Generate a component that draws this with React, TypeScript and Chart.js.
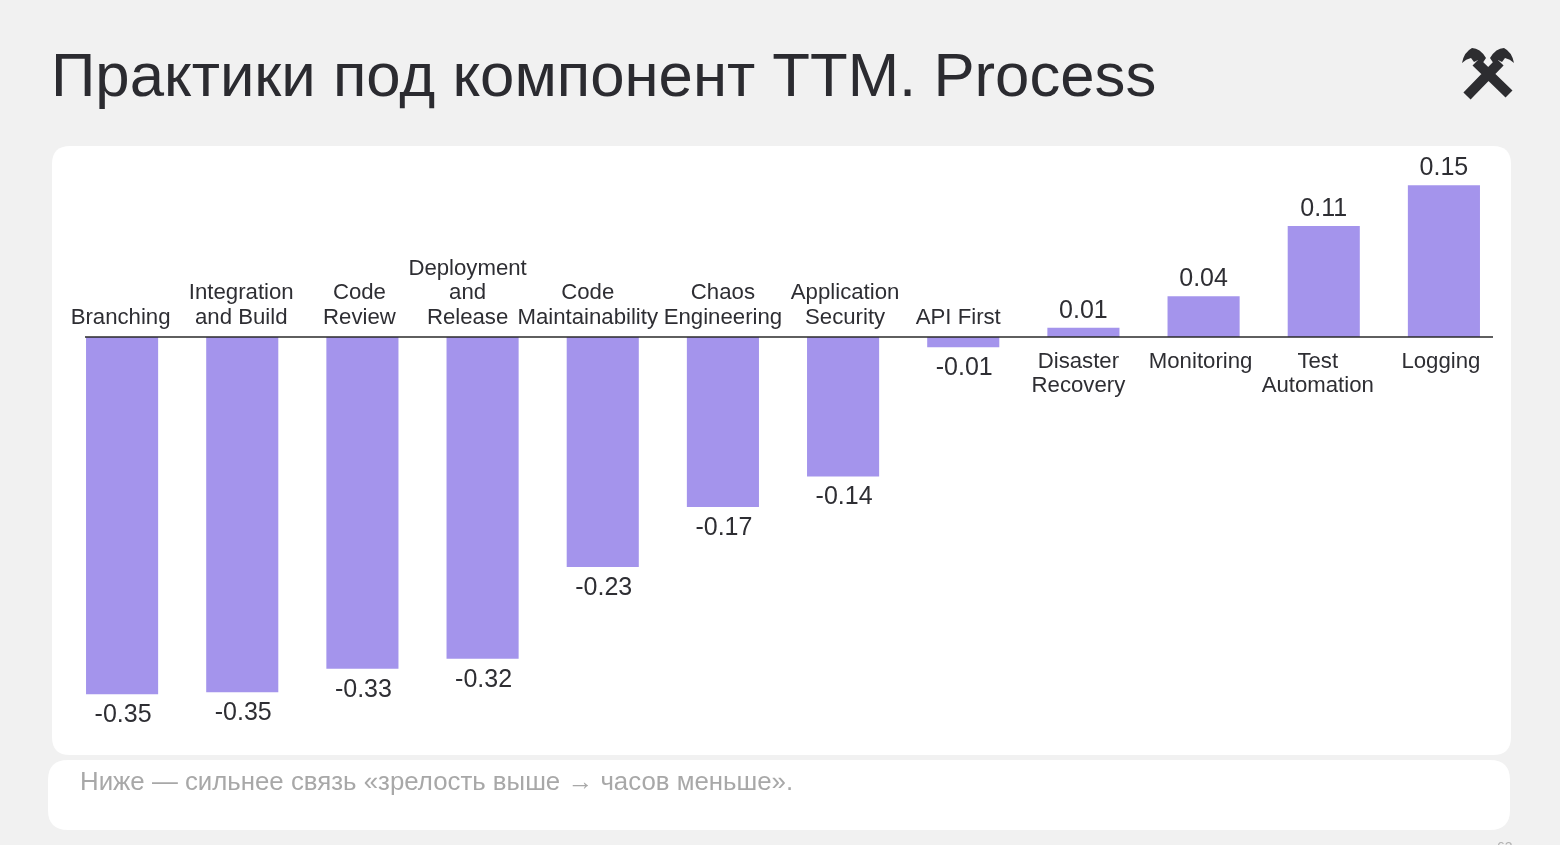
import { useEffect, useRef } from "react";
import { Chart, registerables } from "chart.js";

Chart.register(...registerables);

const TITLE = "Практики под компонент TTM. Process";
const FOOTNOTE = "Ниже — сильнее связь «зрелость выше → часов меньше».";

const categories: string[][] = [
  ["Branching"],
  ["Integration", "and Build"],
  ["Code", "Review"],
  ["Deployment", "and", "Release"],
  ["Code", "Maintainability"],
  ["Chaos", "Engineering"],
  ["Application", "Security"],
  ["API First"],
  ["Disaster", "Recovery"],
  ["Monitoring"],
  ["Test", "Automation"],
  ["Logging"],
];

const values: number[] = [
  -0.351, -0.349, -0.326, -0.316, -0.226, -0.167, -0.137, -0.01, 0.009, 0.04, 0.109, 0.149,
];

// horizontal nudges of category captions (to avoid overlaps, as in the source)
const captionShift: number[] = [-1.5, -1, -3, -15, -15, 0, 2, -5, -5, -3, -6, -3];

const BAR = "#a494ec";
const TEXT = "#2e2e33";
const FONT = "'Liberation Sans', Arial, sans-serif";

function roundRect(ctx: CanvasRenderingContext2D, x: number, y: number, w: number, h: number, r: number) {
  ctx.beginPath();
  ctx.moveTo(x + r, y);
  ctx.lineTo(x + w - r, y);
  ctx.quadraticCurveTo(x + w, y, x + w, y + r);
  ctx.lineTo(x + w, y + h - r);
  ctx.quadraticCurveTo(x + w, y + h, x + w - r, y + h);
  ctx.lineTo(x + r, y + h);
  ctx.quadraticCurveTo(x, y + h, x, y + h - r);
  ctx.lineTo(x, y + r);
  ctx.quadraticCurveTo(x, y, x + r, y);
  ctx.closePath();
}

const pagePlugin = {
  id: "page",
  beforeDraw(chart: any) {
    const ctx: CanvasRenderingContext2D = chart.ctx;
    ctx.save();
    ctx.fillStyle = "#f1f1f1";
    ctx.fillRect(0, 0, chart.width, chart.height);
    ctx.fillStyle = "#ffffff";
    roundRect(ctx, 52, 146, 1459, 609, 18);
    ctx.fill();
    roundRect(ctx, 48, 760, 1462, 70, 20);
    ctx.fill();

    // title
    ctx.fillStyle = "#2b2b30";
    ctx.font = `61.7px ${FONT}`;
    ctx.textAlign = "left";
    ctx.textBaseline = "alphabetic";
    ctx.fillText(TITLE, 51, 96);

    // footnote
    ctx.fillStyle = "#a8a8a8";
    ctx.font = `25px ${FONT}`;
    ctx.save();
    ctx.translate(80, 790);
    ctx.scale(1.033, 1);
    ctx.fillText(FOOTNOTE, 0, 0);
    ctx.restore();

    // page number (cut off at the bottom)
    ctx.fillStyle = "#b0b0b0";
    ctx.font = `14px ${FONT}`;
    ctx.fillText("63", 1497, 852);

    // logo
    ctx.strokeStyle = "#2d2d30";
    ctx.fillStyle = "#2d2d30";
    ctx.lineWidth = 10;
    ctx.lineCap = "butt";
    ctx.beginPath();
    ctx.moveTo(1467, 96);
    ctx.lineTo(1500, 62);
    ctx.moveTo(1509, 94);
    ctx.lineTo(1476, 62);
    ctx.stroke();
    // left head
    ctx.beginPath();
    ctx.moveTo(1462, 63);
    ctx.quadraticCurveTo(1464, 52, 1472, 48);
    ctx.quadraticCurveTo(1480, 48, 1486, 58);
    ctx.lineTo(1482, 64);
    ctx.lineTo(1478, 60);
    ctx.lineTo(1474, 62);
    ctx.lineTo(1471, 58);
    ctx.quadraticCurveTo(1466, 59, 1462, 63);
    ctx.closePath();
    ctx.fill();
    // right head
    ctx.beginPath();
    ctx.moveTo(1514, 63);
    ctx.quadraticCurveTo(1512, 52, 1504, 48);
    ctx.quadraticCurveTo(1496, 48, 1490, 58);
    ctx.lineTo(1494, 64);
    ctx.lineTo(1498, 60);
    ctx.lineTo(1502, 62);
    ctx.lineTo(1505, 58);
    ctx.quadraticCurveTo(1510, 59, 1514, 63);
    ctx.closePath();
    ctx.fill();
    ctx.restore();
  },
  afterDatasetsDraw(chart: any) {
    const ctx: CanvasRenderingContext2D = chart.ctx;
    const area = chart.chartArea;
    const y = chart.scales.y;
    const x = chart.scales.x;
    const zero = y.getPixelForValue(0);
    ctx.save();
    // zero line
    ctx.strokeStyle = "#2a2a2a";
    ctx.lineWidth = 1.5;
    ctx.beginPath();
    ctx.moveTo(area.left + 23, zero);
    ctx.lineTo(area.right - 11, zero);
    ctx.stroke();

    ctx.fillStyle = TEXT;
    ctx.textAlign = "center";
    ctx.textBaseline = "middle";
    const lineH = 24.5;
    values.forEach((v, i) => {
      const cx = x.getPixelForValue(i);
      const lines = categories[i];
      ctx.font = `22.2px ${FONT}`;
      const lx = cx + captionShift[i];
      if (v < 0) {
        lines.forEach((ln, k) => {
          const yy = zero - 19.5 - (lines.length - 1 - k) * lineH;
          ctx.fillText(ln, lx, yy);
        });
      } else {
        lines.forEach((ln, k) => {
          ctx.fillText(ln, lx, zero + 24.5 + k * lineH);
        });
      }
      ctx.font = `25px ${FONT}`;
      const end = y.getPixelForValue(v);
      const txt = v.toFixed(2);
      if (v < 0) ctx.fillText(txt, cx + 1, end + 21);
      else ctx.fillText(txt, cx, end - 17);
    });
    ctx.restore();
  },
};

export default function App() {
  const ref = useRef<HTMLCanvasElement | null>(null);
  useEffect(() => {
    if (!ref.current) return;
    const chart = new Chart(ref.current, {
      type: "bar",
      data: {
        labels: categories,
        datasets: [
          {
            data: values,
            backgroundColor: BAR,
            borderWidth: 0,
            barPercentage: 0.6,
            categoryPercentage: 1,
          },
        ],
      },
      options: {
        responsive: false,
        animation: false,
        devicePixelRatio: 1,
        layout: { padding: { left: 62, right: 56, top: 133.4, bottom: 100.8 } },
        scales: {
          x: { display: false },
          y: { display: false, min: -0.4, max: 0.2 },
        },
        plugins: {
          legend: { display: false },
          tooltip: { enabled: false },
          title: { display: false },
        },
      },
      plugins: [pagePlugin],
    });
    return () => chart.destroy();
  }, []);
  return (
    <div style={{ position: "fixed", left: 0, top: 0, width: 1560, height: 845, overflow: "hidden", background: "#f1f1f1" }}>
      <canvas ref={ref} width={1560} height={845} style={{ display: "block" }} />
    </div>
  );
}
